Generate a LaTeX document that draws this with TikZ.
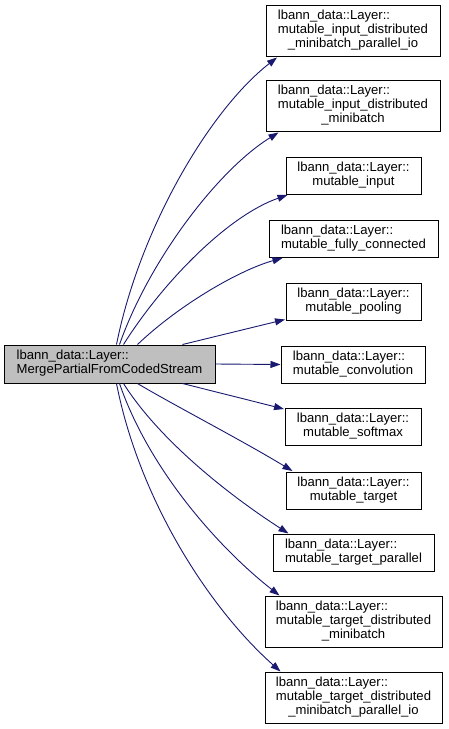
\documentclass[tikz,border=0pt]{standalone}
\usepackage{fontspec}
\setmainfont{Liberation Sans}
\usetikzlibrary{arrows.meta,calc}
\definecolor{edgeblue}{HTML}{191970}
\definecolor{maingray}{HTML}{BFBFBF}
\newcommand{\twol}[2]{\begin{tabular}{@{}l@{}}#1\\\multicolumn{1}{@{}c@{}}{#2}\end{tabular}}
\newcommand{\threel}[3]{\begin{tabular}{@{}l@{}}#1\\#2\\\multicolumn{1}{@{}c@{}}{#3}\end{tabular}}
\begin{document}
\begin{tikzpicture}[x=1pt,y=-1pt,
  every node/.style={font=\fontsize{13.1}{14}\selectfont},
  box/.style={draw=black,line width=1pt,inner sep=0pt,minimum height=37pt},
  mainbox/.style={box,fill=maingray,minimum height=38pt},
  tallbox/.style={box,minimum height=51pt},
  edge/.style={draw=edgeblue,line width=0.9pt,-{Triangle[length=10pt,width=7pt]}}]
\useasboundingbox (0,0) rectangle (448,729);
\fill[white] (0,0) rectangle (448,729);

\node[mainbox,minimum width=211pt] (main) at (109.5,364) {\twol{lbann\_data::Layer::}{MergePartialFromCodedStream}};

\node[tallbox,minimum width=174pt] (n1) at (353,30.5) {\threel{lbann\_data::Layer::}{mutable\_input\_distributed}{\_minibatch\_parallel\_io}};
\node[tallbox,minimum width=174pt] (n2) at (353,105.5) {\threel{lbann\_data::Layer::}{mutable\_input\_distributed}{\_minibatch}};
\node[box,minimum width=135pt] (n3) at (353.5,175.5) {\twol{lbann\_data::Layer::}{mutable\_input}};
\node[box,minimum width=169pt] (n4) at (353.5,238.5) {\twol{lbann\_data::Layer::}{mutable\_fully\_connected}};
\node[box,minimum width=135pt] (n5) at (353.5,301.5) {\twol{lbann\_data::Layer::}{mutable\_pooling}};
\node[box,minimum width=144pt] (n6) at (353,364.5) {\twol{lbann\_data::Layer::}{mutable\_convolution}};
\node[box,minimum width=136pt] (n7) at (353,427) {\twol{lbann\_data::Layer::}{mutable\_softmax}};
\node[box,minimum width=135pt] (n8) at (353.5,490.5) {\twol{lbann\_data::Layer::}{mutable\_target}};
\node[box,minimum width=161pt] (n9) at (353.5,553) {\twol{lbann\_data::Layer::}{mutable\_target\_parallel}};
\node[tallbox,minimum width=177pt] (n10) at (353.5,622) {\threel{lbann\_data::Layer::}{mutable\_target\_distributed}{\_minibatch}};
\node[tallbox,minimum width=177pt] (n11) at (353.5,698) {\threel{lbann\_data::Layer::}{mutable\_target\_distributed}{\_minibatch\_parallel\_io}};

\draw[edge] ($(main.north west)+(113,0)$) .. controls +(23,-115) and +(-68,53) .. ($(n1.south west)+(11.5,1)$);
\draw[edge] ($(main.north west)+(116,0)$) .. controls +(30,-85) and +(-60,37) .. ($(n2.south west)+(13,1)$);
\draw[edge] ($(main.north west)+(120,0)$) .. controls +(41,-65) and +(-58,20) .. ($(n3.south west)+(2,0.5)$);
\draw[edge] ($(main.north west)+(134,0)$) .. controls +(42,-40) and +(-43,12) .. ($(n4.south west)+(14,0.5)$);
\draw[edge] ($(main.north west)+(179,0)$) -- ($(n5.south west)+(-0.5,-1)$);
\draw[edge] (main.east) -- (n6.west);
\draw[edge] ($(main.south west)+(179,0)$) -- ($(n7.north west)+(-0.5,1)$);
\draw[edge] ($(main.south west)+(134,0)$) .. controls +(37,22) and +(-53,-32) .. ($(n8.north west)+(7,-0.5)$);
\draw[edge] ($(main.south west)+(120,0)$) .. controls +(36,57) and +(-59,-38) .. ($(n9.north west)+(16,-0.5)$);
\draw[edge] ($(main.south west)+(116,0)$) .. controls +(30,87) and +(-60,-47) .. ($(n10.north west)+(15,-0.5)$);
\draw[edge] ($(main.south west)+(113,0)$) .. controls +(23,117) and +(-71,-63) .. ($(n11.north west)+(16,-0.5)$);
\end{tikzpicture}
\end{document}
